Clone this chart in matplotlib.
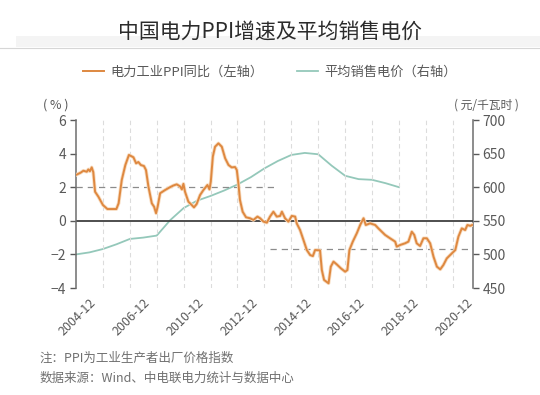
import matplotlib
matplotlib.use('Agg')
import matplotlib.pyplot as plt
from matplotlib.patches import Rectangle
from matplotlib.lines import Line2D

plt.rcParams['font.family'] = ['Noto Sans CJK SC', 'DejaVu Sans']

# month index counted from 2004-12
ppi_month = [0, 2, 3.3, 4.8, 5.5, 6.2, 7, 7.7, 8.5, 10, 12, 14, 18, 19, 20.4, 22, 23.6,
             25.6, 26.8, 27.8, 28.9, 30.3, 31.2, 32.3, 33.8, 34.8, 35.7, 36.4, 37.5, 39.7,
             41.9, 43.4, 44.9, 46.4, 47.2, 47.9, 48.6, 50.1, 51.6, 52.6, 53.8, 55.3, 56.8,
             58.6, 59.5, 60.1, 61, 62, 63.5, 65, 66.5, 68, 69.4, 70.9, 71.7, 72.4, 73.1,
             74.3, 75.8, 77.6, 79.1, 80.9, 82.1, 83.6, 85.1, 86.5, 88, 89.5, 91, 91.8,
             93.2, 94.7, 96.2, 97.7, 98.4, 99.9, 101.4, 102.9, 104.4, 105.6, 106.6, 108.8,
             109.6, 110.6, 112.6, 113.6, 114.8, 116.3, 118.1, 120, 121, 121.9, 123.4,
             125.2, 126.7, 128.2, 129.2, 131.1, 133.4, 134.8, 137.8, 140, 142.3, 143,
             144.5, 146.7, 148.2, 149.7, 150.8, 151.9, 153.4, 154.9, 156.4, 157.9, 159.4,
             160.9, 162.4, 163.8, 165.3, 166.8, 169.1, 170.5, 172, 173.5, 174.5, 175.8, 176.6]
ppi_value = [2.73, 2.86, 2.98, 2.92, 3.06, 2.95, 3.18, 2.9, 1.73, 1.43, 0.94, 0.70, 0.70,
             1.04, 2.43, 3.32, 3.92, 3.78, 3.42, 3.5, 3.32, 3.26, 3.02, 2.03, 1.04, 0.84,
             0.45, 0.84, 1.64, 1.83, 2.0, 2.1, 2.17, 2.05, 1.87, 2.2, 1.73, 1.14, 0.94,
             0.80, 1.0, 1.53, 1.83, 2.13, 1.87, 2.33, 3.82, 4.41, 4.61, 4.41, 3.72, 3.32,
             3.18, 3.2, 3.02, 2.23, 1.24, 0.54, 0.21, 0.15, 0.05, 0.25, 0.15, -0.05, -0.11,
             0.25, 0.54, 0.25, 0.29, 0.54, 0.15, -0.05, 0.29, 0.25, -0.15, -0.55, -1.14,
             -1.74, -2.04, -2.1, -1.74, -1.76, -2.93, -3.52, -3.72, -2.73, -2.43, -2.6,
             -2.83, -3.03, -2.93, -1.74, -1.24, -0.74, -0.25, 0.15, -0.25, -0.15, -0.25,
             -0.45, -0.84, -1.04, -1.24, -1.54, -1.44, -1.34, -1.24, -0.65, -0.84, -1.34,
             -1.5, -1.04, -1.04, -1.34, -2.14, -2.73, -2.89, -2.63, -2.24, -2.04, -1.74,
             -0.94, -0.45, -0.55, -0.25, -0.3, -0.25]

price_month = [0, 6, 12, 18, 24, 30, 36, 42, 48, 54, 60, 66, 72, 78, 84, 90, 96, 102,
               108, 114, 120, 126, 132, 138, 144]
price_value = [500, 503, 508, 515, 523, 525, 528, 551, 569, 580, 587, 595, 604, 615, 628,
               639, 648, 651, 649, 632, 617, 612, 611, 606, 600]

tick_labels = ['2004-12', '2006-12', '2010-12', '2012-12', '2014-12', '2016-12',
               '2018-12', '2020-12']
label_month = [6, 30, 54, 78, 102, 126, 150, 174]
grid_month = [12, 24, 36, 48, 60, 72, 84, 96, 108, 120, 132, 144, 156, 168]

ref_left = 2.0      # dashed reference, first period
ref_right = -1.7    # dashed reference, second period

orange = '#DE8840'
teal = '#94C8BA'
gray = '#595959'

fig = plt.figure(figsize=(5.4, 3.95), dpi=100)
fig.patch.set_facecolor('white')

# title band
fig.patches.append(Rectangle((0.03, 1 - 47 / 395), 0.97, 11 / 395, transform=fig.transFigure,
                             facecolor='#f4f4f4', edgecolor='none', zorder=0))
fig.lines.append(Line2D([0.0, 1.0], [1 - 48 / 395, 1 - 48 / 395], transform=fig.transFigure,
                        color='#d6d6d6', lw=0.8))
fig.text(0.5, 1 - 32 / 395, '中国电力PPI增速及平均销售电价', ha='center', va='center',
         fontsize=15, color='#2b2b2b')

ax = fig.add_axes([76 / 540, 1 - 288 / 395, 397 / 540, 168 / 395])
ax2 = ax.twinx()
ax.set_zorder(ax2.get_zorder() + 1)
ax.patch.set_visible(False)

for m in grid_month:
    ax.axvline(m, color='#dcdcdc', lw=0.8, ls=(0, (4, 3)), zorder=0)

ax.plot([0, 90], [ref_left, ref_left], color='#8c8c8c', lw=0.9, ls=(0, (5, 4)), zorder=1)
ax.plot([86.5, 177], [ref_right, ref_right], color='#8c8c8c', lw=0.9, ls=(0, (5, 4)), zorder=1)
ax.axhline(0, color='#404040', lw=1.3, zorder=2)

ax.plot(ppi_month, ppi_value, color='#f8dcc0', lw=2.6, solid_joinstyle='round', zorder=3)
l1, = ax.plot(ppi_month, ppi_value, color=orange, lw=1.4, solid_joinstyle='round', zorder=4)
l2, = ax2.plot(price_month, price_value, color=teal, lw=1.3)

ax.set_xlim(0, 177)
ax.set_ylim(-4, 6)
ax2.set_ylim(450, 700)
ax.set_yticks([-4, -2, 0, 2, 4, 6])
ax2.set_yticks([450, 500, 550, 600, 650, 700])

ax.set_xticks(label_month)
ax.set_xticklabels(tick_labels, rotation=45, ha='right', rotation_mode='anchor',
                   fontsize=9, color=gray)
ax.tick_params(axis='x', length=0, pad=6)
ax.tick_params(axis='y', colors=gray, labelsize=10, length=4, width=1, pad=3)
ax2.tick_params(axis='y', colors=gray, labelsize=10, length=4, width=1, pad=3)
for lab in ax.get_yticklabels() + ax2.get_yticklabels():
    lab.set_color(gray)

for a in (ax, ax2):
    for s in ('top', 'bottom'):
        a.spines[s].set_visible(False)
ax.spines['right'].set_visible(False)
ax2.spines['left'].set_visible(False)
ax.spines['left'].set_color('#6e6e6e')
ax2.spines['right'].set_color('#6e6e6e')
ax.spines['left'].set_linewidth(1.1)
ax2.spines['right'].set_linewidth(1.1)

fig.text(56 / 540, 1 - 105 / 395, '( % )', ha='center', va='center', fontsize=9, color=gray)
fig.text(486 / 540, 1 - 105 / 395, '( 元/千瓦时 )', ha='center', va='center', fontsize=8.5,
         color=gray)

fig.legend([l1, l2], ['电力工业PPI同比（左轴）', '平均销售电价（右轴）'],
           loc='center', bbox_to_anchor=(0.5, 1 - 72 / 395), ncol=2, frameon=False,
           fontsize=9.5, labelcolor=gray, handlelength=1.6, handletextpad=0.5,
           columnspacing=2.5)

fig.text(40 / 540, 1 - 358 / 395, '注：PPI为工业生产者出厂价格指数', ha='left', va='center',
         fontsize=9, color='#707070')
fig.text(40 / 540, 1 - 378 / 395, '数据来源：Wind、中电联电力统计与数据中心', ha='left',
         va='center', fontsize=9, color='#707070')

fig.savefig('out.png', dpi=100)
